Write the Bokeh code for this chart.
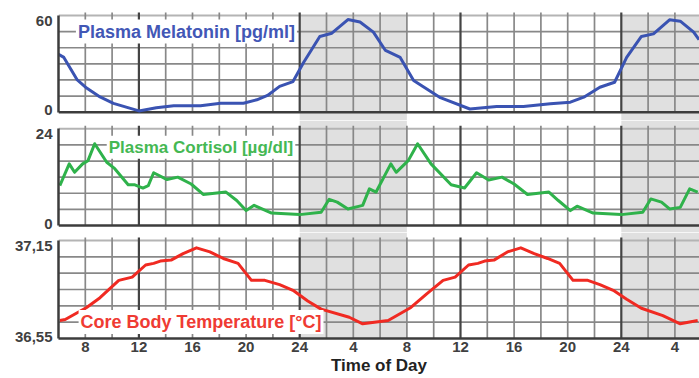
from bokeh.plotting import figure
from bokeh.layouts import column
from bokeh.models import Range1d, FixedTicker, Label
from bokeh.embed import file_html
from bokeh.resources import INLINE

# ---------------- data (hours since midnight of day 1) ----------------
mel_hours = [6.0, 6.4, 7.4, 8.1, 9.1, 10.1, 12.0, 13.3, 14.6, 16.6, 18.1, 19.8, 20.8, 21.6,
             22.5, 23.5, 24.3, 25.5, 26.4, 27.6, 28.5, 29.5, 30.4, 31.5, 32.5, 34.5, 36.7,
             38.7, 40.7, 42.7, 44.2, 45.2, 46.4, 47.5, 48.4, 49.5, 50.4, 51.6, 52.4, 53.4, 53.8]
mel_values = [36, 34, 20, 15, 9.5, 5.5, 0.8, 2.7, 4, 4, 5.5, 5.6, 7.7, 10.4,
              16, 19, 31, 47, 49, 57.5, 56, 49.7, 38.3, 34, 19.7, 9, 2,
              3.5, 3.5, 5.2, 6.2, 9.3, 15.5, 18.6, 34, 47, 48.6, 57.3, 56.5, 49.7, 45]

cort_hours = [6.1, 6.8, 7.2, 7.8, 8.2, 8.7, 9.6, 10.2, 11.2, 11.7,
              12.3, 12.7, 13.1, 14.1, 14.9, 15.9, 16.8, 18.5, 19.3, 20.0,
              20.6, 21.9, 24.0, 25.6, 26.2, 26.8, 27.6, 28.7, 29.2, 29.7,
              30.8, 31.2, 32.1, 32.8, 33.8, 35.3, 36.3, 37.2, 38.1, 39.1,
              40.0, 41.0, 42.6, 43.3, 44.2, 44.7, 45.9, 48.0, 49.6, 50.2,
              51.0, 51.6, 52.4, 53.1, 53.7]
cort_values = [9.9, 15.3, 13.2, 15.3, 16.1, 20.3, 15.7, 14.1, 10.1, 10.1,
               9.3, 9.9, 13.1, 11.4, 12.0, 10.3, 7.7, 8.3, 6.2, 3.7,
               5.0, 3.1, 2.7, 3.3, 6.5, 5.8, 4.1, 5.0, 9.1, 8.3,
               15.3, 13.2, 16.1, 20.3, 15.3, 10.1, 9.3, 13.1, 11.3, 12.0,
               10.3, 7.7, 8.3, 6.2, 3.7, 4.8, 3.1, 2.7, 3.3, 6.6,
               5.8, 4.1, 4.5, 9.1, 8.3]

temp_hours = [6.1, 6.5, 8.1, 9.1, 10.5, 11.5, 12.5, 13.1, 13.6, 14.4,
              15.3, 16.3, 17.3, 18.3, 19.4, 20.4, 21.4, 22.5, 23.5, 24.6,
              25.6, 27.7, 28.7, 30.6, 32.3, 33.5, 34.7, 35.6, 36.6, 37.3,
              37.8, 38.5, 39.5, 40.5, 41.5, 42.5, 43.4, 44.4, 45.5, 46.4,
              47.4, 48.4, 49.5, 51.1, 52.4, 53.7]
temp_values = [36.66, 36.666, 36.74, 36.80, 36.906, 36.926, 37.0, 37.01, 37.024, 37.03,
               37.07, 37.105, 37.08, 37.04, 37.01, 36.906, 36.906, 36.88, 36.845, 36.78,
               36.73, 36.68, 36.64, 36.66, 36.74, 36.825, 36.906, 36.926, 37.0, 37.01,
               37.024, 37.03, 37.08, 37.105, 37.07, 37.04, 37.01, 36.906, 36.906, 36.88,
               36.845, 36.79, 36.735, 36.69, 36.64, 36.66]

x_tick_hours = [8, 12, 16, 20, 24, 28, 32, 36, 40, 44, 48, 52]
x_tick_labels = ["8", "12", "16", "20", "24", "4", "8", "12", "16", "20", "24", "4"]

mel_ticks, mel_tick_labels, mel_step = [0, 60], ["0", "60"], 10
cort_ticks, cort_tick_labels, cort_step = [0, 24], ["0", "24"], 4
temp_ticks, temp_tick_labels, temp_step = [36.55, 37.15], ["36,55", "37,15"], 0.1

night_start = [24, 48]
night_end = [32, 56]
grid_hours = list(range(8, 56, 2))
major_hours = [12, 24, 36, 48]

mel_title = "Plasma Melatonin [pg/ml]"
cort_title = "Plasma Cortisol [µg/dl]"
temp_title = "Core Body Temperature [°C]"

# ---------------- style ----------------
FONT = "Liberation Sans"
W = 699
LEFT = 58
X0 = 6
PXH = 13.4
X1 = X0 + (W - LEFT) / PXH
BAND = "#e0e0e0"
GRID = "#888888"
DARK = "#3c3c3c"


def panel(fig_h, pad_top, pad_bot, border_bottom, ticks, tick_labels, step,
          band_full, x_axis=False):
    lo, hi = ticks[0], ticks[-1]
    frame_h = fig_h - border_bottom
    s = (frame_h - pad_top - pad_bot) / (hi - lo)
    y0 = lo - pad_bot / s
    y1 = hi + pad_top / s
    ext = 3 / s
    p = figure(width=W, height=fig_h, x_range=Range1d(X0, X1), y_range=Range1d(y0, y1),
               output_backend="svg", toolbar_location=None,
               x_axis_location="below" if x_axis else None,
               min_border_left=LEFT, min_border_right=0, min_border_top=0,
               min_border_bottom=border_bottom)
    p.outline_line_color = None
    p.grid.visible = False

    p.quad(left=night_start, right=night_end, bottom=y0, top=(y1 if band_full else hi),
           fill_color=BAND, line_color=None)

    n = int(round((hi - lo) / step))
    hvals = [lo + i * step for i in range(1, n)]
    p.segment(x0=[X0] * len(hvals), y0=hvals, x1=[X1] * len(hvals), y1=hvals,
              line_color=GRID, line_width=1.7)
    p.segment(x0=[X0], y0=[hi], x1=[X1], y1=[hi], line_color="#b4b4b4", line_width=2)
    minor = [h for h in grid_hours if h not in major_hours]
    p.segment(x0=minor, y0=[lo] * len(minor), x1=minor, y1=[hi + ext] * len(minor),
              line_color=GRID, line_width=1.7)
    p.segment(x0=major_hours, y0=[lo] * len(major_hours), x1=major_hours,
              y1=[hi + ext] * len(major_hours), line_color="#444444", line_width=2.2)
    if not x_axis:
        p.segment(x0=[X0], y0=[lo], x1=[X1], y1=[lo], line_color=DARK, line_width=2.5)

    # y axis: labels sit slightly inside the panel like the original
    pos = [t + (2 / s if t == lo else -5 / s) for t in ticks]
    ax = p.yaxis[0]
    ax.ticker = FixedTicker(ticks=pos)
    ax.major_label_overrides = {k: v for k, v in zip(pos, tick_labels)}
    ax.bounds = (lo, hi)
    ax.axis_line_color = DARK
    ax.axis_line_width = 2.5
    ax.major_tick_line_color = None
    ax.minor_tick_line_color = None
    ax.major_tick_out = 0
    ax.major_tick_in = 0
    ax.major_label_standoff = 6
    ax.major_label_text_font = FONT
    ax.major_label_text_font_style = "bold"
    ax.major_label_text_font_size = "15px"
    ax.major_label_text_color = "#404040"

    if x_axis:
        xa = p.xaxis[0]
        xa.ticker = FixedTicker(ticks=x_tick_hours)
        xa.major_label_overrides = {k: v for k, v in zip(x_tick_hours, x_tick_labels)}
        xa.axis_line_color = DARK
        xa.axis_line_width = 2.5
        xa.major_tick_line_color = None
        xa.minor_tick_line_color = None
        xa.major_tick_out = 0
        xa.major_tick_in = 0
        xa.major_label_standoff = 3
        xa.major_label_text_font = FONT
        xa.major_label_text_font_style = "bold"
        xa.major_label_text_font_size = "15px"
        xa.major_label_text_color = "#404040"
        xa.axis_label = "Time of Day"
        xa.axis_label_standoff = 1
        xa.axis_label_text_font = FONT
        xa.axis_label_text_font_style = "bold"
        xa.axis_label_text_font_size = "17px"
        xa.axis_label_text_color = "#222222"
    return p


p1 = panel(120, 15, 8.3, 0, mel_ticks, mel_tick_labels, mel_step, band_full=False)
p1.line(mel_hours, mel_values, line_color="#3a53b2", line_width=3, line_join="round")
p1.add_layout(Label(x=7.3, y=50, text=mel_title, text_font=FONT, text_font_style="bold",
                    text_font_size="18px", text_color="#4257b6", text_baseline="middle",
                    background_fill_color="white", padding=2))

p2 = panel(112, 8.3, 7, 0, cort_ticks, cort_tick_labels, cort_step, band_full=True)
p2.line(cort_hours, cort_values, line_color="#2fb24b", line_width=3, line_join="round")
p2.add_layout(Label(x=9.6, y=19.4, text=cort_title, text_font=FONT, text_font_style="bold",
                    text_font_size="17px", text_color="#45b853", text_baseline="middle",
                    background_fill_color="white", padding=2))

p3 = panel(146, 8, 0, 40, temp_ticks, temp_tick_labels, temp_step, band_full=True, x_axis=True)
p3.line(temp_hours, temp_values, line_color="#f02a22", line_width=3, line_join="round")
p3.add_layout(Label(x=7.5, y=36.651, text=temp_title, text_font=FONT, text_font_style="bold",
                    text_font_size="18px", text_color="#ef3b33", text_baseline="middle",
                    background_fill_color="white", padding=2))

layout = column(p1, p2, p3, spacing=0)
open("out.html", "w").write(file_html(layout, INLINE))
